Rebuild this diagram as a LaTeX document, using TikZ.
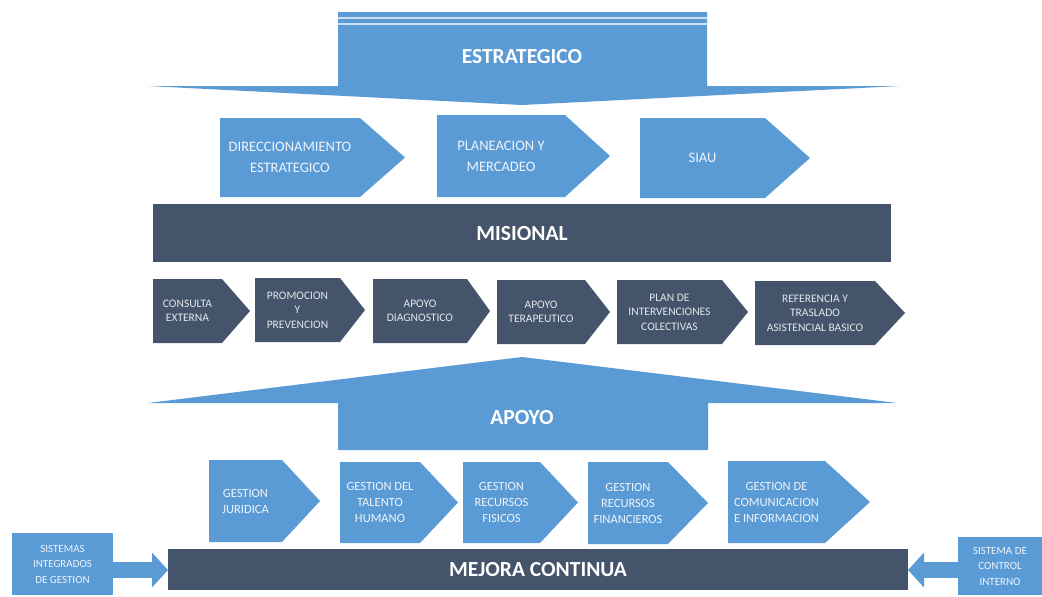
\documentclass[tikz,border=0pt]{standalone}
\usepackage{fontspec}
\setmainfont{Carlito}
\usetikzlibrary{arrows.meta}
\definecolor{lblue}{HTML}{5B9BD5}
\definecolor{dblue}{HTML}{44546A}
\definecolor{ltext}{HTML}{EEF4FB}
\definecolor{dtext}{HTML}{E4E7EC}
\tikzset{
  head/.style={text=white,font=\fontsize{21.5}{24}\selectfont\bfseries,inner sep=0},
  bigtxt/.style={text=ltext,font=\fontsize{14.5}{21}\selectfont,align=center,inner sep=0},
  midtxt/.style={text=dtext,font=\fontsize{11.5}{14.5}\selectfont,align=center,inner sep=0},
  aptxt/.style={text=ltext,font=\fontsize{12.5}{16}\selectfont,align=center,inner sep=0},
  sidetxt/.style={text=ltext,font=\fontsize{11}{15.5}\selectfont,align=center,inner sep=0},
  bar/.style={fill=dblue,draw=none},
  sidebox/.style={fill=lblue,draw=none},
  blockarrow/.style={draw=lblue,line width=16pt,-{Triangle[width=34pt,length=16pt]}}
}
\newcommand\chev[9]{%
  \fill[#7] (#2,#5) -- (#3,#5) -- (#4,{(#5+#6)/2}) -- (#3,#6) -- (#2,#6) -- cycle;
  \node[#8] (#1) at ({(#2+#3)/2},{(#5+#6)/2}) {#9};}
\begin{document}
\begin{tikzpicture}[x=1pt,y=-1pt]
\useasboundingbox (0,0) rectangle (1042,597);
\fill[white] (0,0) rectangle (1042,597);
% Estrategico arrow
\fill[lblue] (338,12) -- (707,12) -- (707,86) -- (900,86) -- (522,105) -- (148,86) -- (338,86) -- cycle;
\draw[white,opacity=0.7,line width=1.2pt] (338,18) -- (707,18) (338,24) -- (707,24);
\node[head] (estr) at (522,57) {ESTRATEGICO};
% Estrategico row
\chev{dir}{220}{360}{405}{118}{197}{lblue}{bigtxt}{DIRECCIONAMIENTO\\ESTRATEGICO}
\chev{pla}{437}{565}{610}{115}{197}{lblue}{bigtxt}{PLANEACION Y\\MERCADEO}
\chev{siau}{640}{765}{810}{118}{198}{lblue}{bigtxt}{SIAU}
% Misional bar
\fill[bar] (153,204) rectangle (891,262);
\node[head] (mis) at (522,234) {MISIONAL};
% Misional row
\chev{con}{153}{222}{250}{279}{343}{dblue}{midtxt}{CONSULTA\\EXTERNA}
\chev{pro}{255}{340}{365}{278}{342}{dblue}{midtxt}{PROMOCION\\Y\\PREVENCION}
\chev{dia}{373}{467}{490}{279}{343}{dblue}{midtxt}{APOYO\\DIAGNOSTICO}
\chev{ter}{497}{585}{610}{280}{344}{dblue}{midtxt}{APOYO\\TERAPEUTICO}
\chev{pic}{617}{722}{748}{280}{344}{dblue}{midtxt}{PLAN DE\\INTERVENCIONES\\COLECTIVAS}
\chev{ref}{755}{875}{905}{281}{345}{dblue}{midtxt}{REFERENCIA Y\\TRASLADO\\ASISTENCIAL BASICO}
% Apoyo arrow
\fill[lblue] (522,357) -- (897,403) -- (708,403) -- (708,450) -- (338,450) -- (338,403) -- (148,403) -- cycle;
\node[head] (apo) at (522,418) {APOYO};
% Apoyo row
\chev{jur}{209}{282}{320}{460}{542}{lblue}{aptxt}{GESTION\\JURIDICA}
\chev{tal}{340}{420}{458}{462}{543}{lblue}{aptxt}{GESTION DEL\\TALENTO\\HUMANO}
\chev{fis}{463}{540}{578}{462}{543}{lblue}{aptxt}{GESTION\\RECURSOS\\FISICOS}
\chev{fin}{588}{668}{708}{462}{544}{lblue}{aptxt}{GESTION\\RECURSOS\\FINANCIEROS}
\chev{com}{728}{825}{870}{461}{543}{lblue}{aptxt}{GESTION DE\\COMUNICACION\\E INFORMACION}
% Mejora continua
\fill[bar] (168,549) rectangle (908,590);
\node[head] (mej) at (538,570) {MEJORA CONTINUA};
\coordinate (mejw) at (168,570);
\coordinate (meje) at (908,570);
% side boxes
\fill[sidebox] (12,533) rectangle (113,595);
\node[sidetxt] (sig) at (62.5,564) {SISTEMAS\\INTEGRADOS\\DE GESTION};
\coordinate (sige) at (113,570);
\fill[sidebox] (958,537) rectangle (1042,595);
\node[sidetxt] (sci) at (1000,566) {SISTEMA DE\\CONTROL\\INTERNO};
\coordinate (sciw) at (958,570);
\draw[blockarrow] (sige) -- (mejw);
\draw[blockarrow] (sciw) -- (meje);
\end{tikzpicture}
\end{document}
